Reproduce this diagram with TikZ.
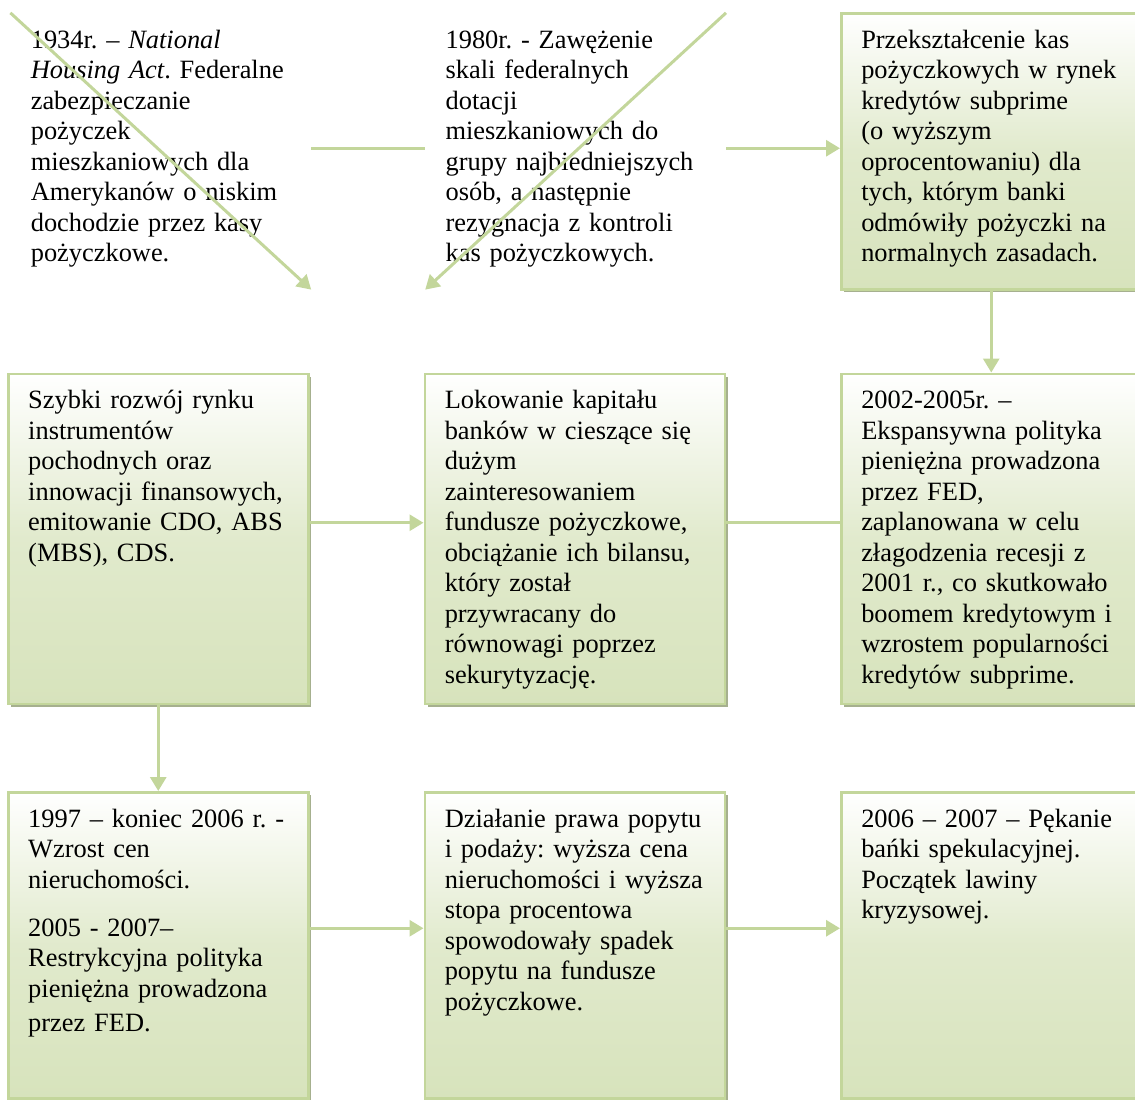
\documentclass[tikz,border=0pt]{standalone}
\usepackage{fontspec}
\setmainfont{Liberation Serif}
\usepackage{tikz}
\usetikzlibrary{positioning, arrows.meta, shadows}

\definecolor{boxline}{RGB}{195,214,155}
\definecolor{boxfill}{RGB}{215,227,188}
\definecolor{boxshadow}{RGB}{166,176,143}
\frenchspacing

\begin{document}
\begin{tikzpicture}[x=0.5pt, y=-0.5pt, node distance=57pt,
        stage/.style={inner xsep=10pt, inner ysep=0pt, text width=130pt, align=left,
            font=\fontsize{13.2pt}{15.25pt}\selectfont, text height=17.5pt},
        stagebox/.style={stage, draw=boxline, line width=1.25pt,
            top color=white, bottom color=boxfill, middle color=boxfill!75!white,
            drop shadow={shadow xshift=1.5pt, shadow yshift=-1.5pt, fill=boxshadow, opacity=1}},
        flow/.style={draw=boxline, line width=1.5pt, -{Triangle[length=7pt, width=8pt]}},
        link/.style={draw=boxline, line width=1.5pt}]
        \useasboundingbox (0,0) rectangle (1135,1099);

        % top row
        \node[stagebox, text depth=120.5pt, anchor=north west] (subprime) at (840,12)
            {Przekształcenie kas\\pożyczkowych w rynek\\kredytów subprime\\(o wyższym\\oprocentowaniu) dla\\tych, którym banki\\odmówiły pożyczki na\\normalnych zasadach.};
        \node[stage, text depth=120.5pt, left = of subprime] (dotacje)
            {1980r. - Zawężenie\\skali federalnych\\dotacji\\mieszkaniowych do\\grupy najbiedniejszych\\osób, a następnie\\rezygnacja z kontroli\\kas pożyczkowych.};
        \node[stage, text depth=120.5pt, left = of dotacje] (housing)
            {1934r. – \textit{National}\\\textit{Housing Act}. Federalne\\zabezpieczanie\\pożyczek\\mieszkaniowych dla\\Amerykanów o niskim\\dochodzie przez kasy\\pożyczkowe.};

        % middle row
        \node[stagebox, text depth=147.5pt, below = 41pt of subprime] (fed)
            {2002-2005r. –\\Ekspansywna polityka\\pieniężna prowadzona\\przez FED,\\zaplanowana w celu\\złagodzenia recesji z\\2001 r., co skutkowało\\boomem kredytowym i\\wzrostem popularności\\kredytów subprime.};
        \node[stagebox, text depth=147.5pt, left = of fed] (lokaty)
            {Lokowanie kapitału\\banków w cieszące się\\dużym\\zainteresowaniem\\fundusze pożyczkowe,\\obciążanie ich bilansu,\\który został\\przywracany do\\równowagi poprzez\\sekurytyzację.};
        \node[stagebox, text depth=147.5pt, left = of lokaty] (derywaty)
            {Szybki rozwój rynku\\instrumentów\\pochodnych oraz\\innowacji finansowych,\\emitowanie CDO, ABS\\(MBS), CDS.};

        % bottom row
        \node[stagebox, text depth=135.5pt, below = 43pt of derywaty] (ceny)
            {1997 – koniec 2006 r. -\\Wzrost cen\\nieruchomości.\\[8.75pt]2005 - 2007–\\Restrykcyjna polityka\\pieniężna prowadzona\\[2pt]przez FED.};
        \node[stagebox, text depth=135.5pt, right = of ceny] (popyt)
            {Działanie prawa popytu\\i podaży: wyższa cena\\nieruchomości i wyższa\\stopa procentowa\\spowodowały spadek\\popytu na fundusze\\pożyczkowe.};
        \node[stagebox, text depth=135.5pt, right = of popyt] (banka)
            {2006 – 2007 – Pękanie\\bańki spekulacyjnej.\\Początek lawiny\\kryzysowej.};

        \draw[flow] (housing.north west) -- (housing.south east);
        \draw[flow] (dotacje.north east) -- (dotacje.south west);
        \draw[link] ([yshift=1.5pt]housing.east) -- ([yshift=1.5pt]dotacje.west);
        \draw[flow] ([yshift=1.5pt]dotacje.east) -- ([yshift=1.5pt]subprime.west);
        \draw[flow] (subprime.south) -- (fed.north);
        \draw[link] ([yshift=8pt]fed.west) -- ([yshift=8pt]lokaty.east);
        \draw[flow] ([yshift=8pt]derywaty.east) -- ([yshift=8pt]lokaty.west);
        \draw[flow] (derywaty.south) -- (ceny.north);
        \draw[flow] ([yshift=8.5pt]ceny.east) -- ([yshift=8.5pt]popyt.west);
        \draw[flow] ([yshift=8.5pt]popyt.east) -- ([yshift=8.5pt]banka.west);
    \end{tikzpicture}
\end{document}
